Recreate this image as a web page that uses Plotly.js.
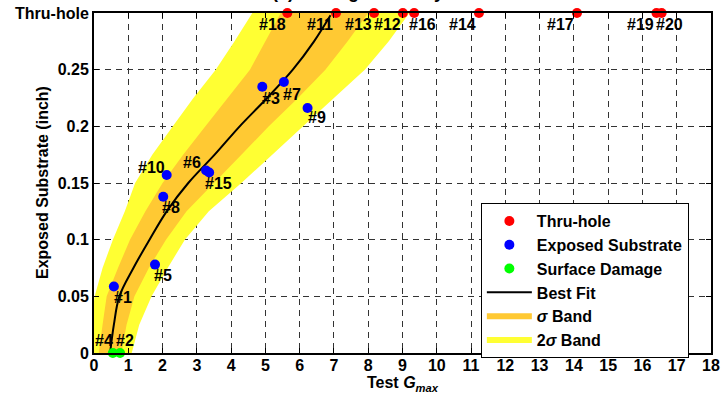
<!DOCTYPE html>
<html><head><meta charset="utf-8">
<script src="https://cdn.plot.ly/plotly-3.0.1.min.js"></script>
<style>html,body{margin:0;padding:0;background:#fff;}#chart{width:724px;height:403px;}</style>
</head><body><div id="chart"></div>
<script>
// ---- data ----
const thruLevel = 0.3;
const thruX = [5.64, 7.06, 8.17, 9.01, 9.34, 11.23, 14.09, 16.41, 16.56];
const thruLabels = ['#18', '#11', '#13', '#12', '#16', '#14', '#17', '#19', '#20'];

const expX = [4.91, 5.54, 6.23, 2.12, 2.02, 3.27, 3.36, 1.78, 0.58];
const expY = [0.235, 0.2391, 0.2162, 0.157, 0.1379, 0.1611, 0.1593, 0.078, 0.0587];
const expLabels = ['#3', '#7', '#9', '#10', '#8', '#6', '#15', '#5', '#1'];

const surfX = [0.55, 0.76];
const surfY = [0, 0];
const surfLabels = ['#4', '#2'];

const fitY = [0, 0.025, 0.05, 0.075, 0.1, 0.125, 0.15, 0.175, 0.2, 0.225, 0.25, 0.275, 0.298];
const fitX = [0.47, 0.58, 0.74, 1.15, 1.62, 2.12, 2.75, 3.52, 4.25, 5.05, 5.8, 6.42, 6.9];

const bandY     = [0, 0.025, 0.05, 0.075, 0.1, 0.125, 0.15, 0.175, 0.2, 0.225, 0.25, 0.275, 0.3];
const sig1Left  = [0.14, 0.25, 0.37, 0.7, 1.05, 1.5, 2.0, 2.6, 3.25, 3.9, 4.55, 5.0, 5.45];
const sig1Right = [0.8, 0.95, 1.18, 1.6, 2.1, 2.7, 3.5, 4.3, 5.1, 5.95, 6.75, 7.4, 8.0];
const sig2Left  = [-0.2, -0.1, 0.02, 0.25, 0.55, 0.9, 1.2, 1.7, 2.3, 2.9, 3.55, 4.1, 4.62];
const sig2Right = [1.1, 1.32, 1.68, 2.15, 2.65, 3.35, 4.3, 5.2, 6.1, 7.0, 7.9, 8.6, 9.2];

const yTickVals = [0, 0.05, 0.1, 0.15, 0.2, 0.25, 0.3];
const yTickText = ['0', '0.05', '0.1', '0.15', '0.2', '0.25', 'Thru-hole'];

// ---- label placement (style: pixel offsets of each label from its point) ----
const thruDx = [-15, -16, -16, -15, 8, -16, -16, -16, 8];
const thruDy = [-11, -11, -11, -11, -11, -11, -11, -11, -11];
const expDx = [9, 8, 9, -15, 8, -14, 9, 8, 9];
const expDy = [-12, -12, -10, 8, -11, 8, -11, -11, -11];
const surfDx = [-9, 5];
const surfDy = [13, 13];

const FONT = 'Arial, "Liberation Sans", sans-serif';
const bold = (size) => ({family: FONT, size: size, color: '#000', weight: 'bold'});

function polyX(l, r) { return l.concat(r.slice().reverse()); }
function polyY(y) { return y.concat(y.slice().reverse()); }

const thruY = thruX.map(() => thruLevel);

const traces = [
  {name: '2<i>σ</i> Band', x: polyX(sig2Left, sig2Right), y: polyY(bandY), type: 'scatter', mode: 'none',
   fill: 'toself', fillcolor: '#ffff33', legendrank: 6, hoverinfo: 'skip'},
  {name: '<i>σ</i> Band', x: polyX(sig1Left, sig1Right), y: polyY(bandY), type: 'scatter', mode: 'none',
   fill: 'toself', fillcolor: '#ffc933', legendrank: 5, hoverinfo: 'skip'},
  {name: 'Best Fit', x: fitX, y: fitY, type: 'scatter', mode: 'lines',
   line: {color: '#000', width: 2, shape: 'spline'}, legendrank: 4},
  {name: 'Thru-hole', x: thruX, y: thruY, type: 'scatter', mode: 'markers',
   marker: {color: '#ff0000', size: 10}, cliponaxis: false, legendrank: 1},
  {name: 'Exposed Substrate', x: expX, y: expY, type: 'scatter', mode: 'markers',
   marker: {color: '#0000ff', size: 10}, cliponaxis: false, legendrank: 2},
  {name: 'Surface Damage', x: surfX, y: surfY, type: 'scatter', mode: 'markers',
   marker: {color: '#00ff00', size: 10}, cliponaxis: false, legendrank: 3}
];

function labelAnns(xs, ys, labels, dx, dy) {
  return xs.map((x, i) => ({
    x: x, y: ys[i], xref: 'x', yref: 'y', text: labels[i], showarrow: false,
    xanchor: 'center', yanchor: 'middle', xshift: dx[i], yshift: dy[i], font: bold(16)
  }));
}

const annotations = [].concat(
  labelAnns(thruX, thruY, thruLabels, thruDx, thruDy),
  labelAnns(expX, expY, expLabels, expDx, expDy),
  labelAnns(surfX, surfY, surfLabels, surfDx, surfDy),
  [
    {text: 'Exposed Substrate (inch)', xref: 'paper', yref: 'paper', x: 0, y: 0.5, xshift: -52,
     xanchor: 'center', yanchor: 'middle', textangle: -90, showarrow: false, font: bold(16)},
    {text: '(a) Damage Severity vs. Test G', xref: 'paper', yref: 'paper',
     x: 0.5, y: 1.027, xanchor: 'center', yanchor: 'bottom', showarrow: false, font: bold(18)}
  ]
);

const layout = {
  width: 724, height: 403,
  margin: {l: 94, r: 13, t: 13, b: 50, pad: 0},
  paper_bgcolor: '#fff', plot_bgcolor: '#fff',
  font: bold(16),
  showlegend: true,
  legend: {x: 0.627, y: 0.441, xanchor: 'left', yanchor: 'top', bgcolor: '#fff',
           bordercolor: '#000', borderwidth: 1, font: bold(16), itemwidth: 45},
  xaxis: {range: [0, 18], dtick: 1, tick0: 0, showline: true, linecolor: '#000', linewidth: 2,
          mirror: 'ticks', ticks: 'inside', ticklen: 5, tickcolor: '#000', tickwidth: 1,
          showgrid: true, gridcolor: '#333', gridwidth: 1, griddash: '6px,5px', zeroline: false,
          tickfont: bold(16), ticklabelstandoff: -3,
          title: {text: 'Test <i>G</i><sub><i>max</i></sub>', font: bold(16), standoff: 4}},
  yaxis: {range: [0, 0.3], tickvals: yTickVals, ticktext: yTickText, showline: true, linecolor: '#000',
          linewidth: 2, mirror: 'ticks', ticks: 'inside', ticklen: 5, tickcolor: '#000', tickwidth: 1,
          showgrid: true, gridcolor: '#333', gridwidth: 1, griddash: '6px,5px', zeroline: false,
          tickfont: bold(16)},
  annotations: annotations
};

Plotly.newPlot('chart', traces, layout, {displayModeBar: false, staticPlot: true});
</script></body></html>
